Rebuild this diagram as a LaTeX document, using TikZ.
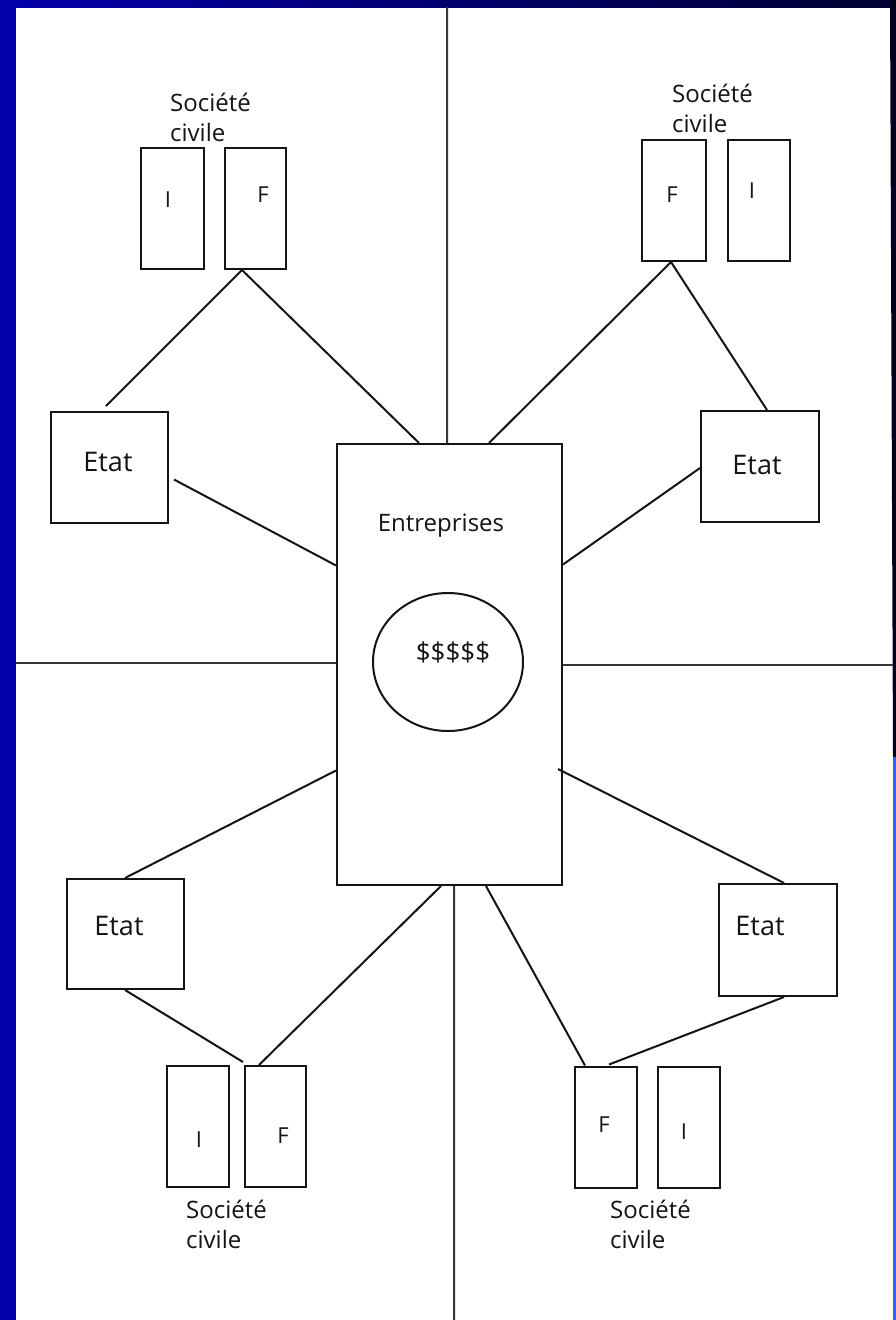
\documentclass[tikz,border=0pt]{standalone}
\usepackage{fontspec}
\setmainfont{Open Sans}
\usetikzlibrary{shapes.geometric,calc}
\definecolor{frameblue}{RGB}{4,0,172}
\definecolor{framenavy}{RGB}{0,0,48}
\definecolor{brightblue}{RGB}{58,92,250}
\definecolor{ink}{RGB}{20,20,20}
\tikzset{
  box/.style={draw=ink, line width=2pt, rectangle, inner sep=0pt},
  cbox/.style={box, minimum width=62pt, minimum height=121pt},
  ebox/.style={box, minimum width=117pt, minimum height=111pt},
  conn/.style={draw=ink, line width=2pt},
  sep/.style={draw=ink!85, line width=2pt},
  lbl/.style={text=ink, inner sep=0pt, font=\fontsize{22}{22}\selectfont},
  etatlbl/.style={text=ink, inner sep=0pt, font=\fontsize{27}{27}\selectfont},
  soc/.style={text=ink, inner sep=0pt, anchor=west, align=left, font=\fontsize{24}{30}\selectfont},
}
\begin{document}
\begin{tikzpicture}[x=1pt,y=-1pt]
\useasboundingbox (0,0) rectangle (896,1320);
\fill[white] (0,0) rectangle (896,1320);
% frame
\fill[frameblue] (0,0) rectangle (16,1320);
\shade[left color=frameblue, right color=framenavy] (0,0) rectangle (896,7);
\fill[framenavy!60!black] (890,0) -- (896,0) -- (896,757) -- (893,757) -- cycle;
\fill[brightblue] (893,757) rectangle (896,1320);

% central box
\node[box, minimum width=225pt, minimum height=441pt] (ent) at (449.5,664.5) {};
\node[text=ink, inner sep=0pt, font=\fontsize{24}{24}\selectfont] (entlbl) at (441,526) {Entreprises};
\node[box, ellipse, minimum width=150pt, minimum height=138pt] (money) at (448,662) {};
\node[text=ink, inner sep=0pt, font=\fontsize{26}{26}\selectfont] (moneylbl) at (453,652) {\$\$\$\$\$};

% quadrant separators
\coordinate (topend) at (447,7);
\coordinate (botend) at (454,1320);
\coordinate (leftend) at (16,663);
\coordinate (rightend) at (893,665);
\draw[sep] (topend) -- ($(ent.north west)!0.489!(ent.north east)$);
\draw[sep] ($(ent.south west)!0.52!(ent.south east)$) -- (botend);
\draw[sep] (leftend) -- (ent.west |- leftend);
\draw[sep] (ent.east |- rightend) -- (rightend);

% top-left group
\node[cbox, minimum width=63pt] (tlI) at (172.5,208.5) {};
\node[cbox, minimum width=61pt] (tlF) at (255.5,208.5) {};
\node[lbl] (tlIt) at (168,200) {I};
\node[lbl] (tlFt) at (263,195) {F};
\node[soc] (tlS) at (170,117) {Société\\civile};
\node[ebox] (tlE) at (109.5,467.5) {};
\node[etatlbl] (tlEt) at (108,462) {Etat};
\coordinate (tlApex) at ([xshift=18pt]tlF.south west);
\coordinate (tlEtop) at ([yshift=5pt]$(tlE.north west)!0.47!(tlE.north east)$);
\draw[conn] (tlEtop) -- (tlApex) -- ([xshift=83pt]ent.north west);
\draw[conn] ([xshift=5pt,yshift=-12pt]tlE.east) -- ([yshift=99pt]ent.west);

% top-right group
\node[cbox, minimum width=64pt] (trF) at (674,200.5) {};
\node[cbox, minimum width=62pt] (trI) at (759,200.5) {};
\node[lbl] (trFt) at (672,195) {F};
\node[lbl] (trIt) at (752,191) {I};
\node[soc] (trS) at (672,108) {Société\\civile};
\node[ebox, minimum width=118pt] (trE) at (760,466.5) {};
\node[etatlbl] (trEt) at (757,465) {Etat};
\coordinate (trApex) at ([xshift=-3pt]trF.south);
\draw[conn] ([xshift=153pt]ent.north west) -- (trApex) -- ([xshift=7pt]trE.north);
\draw[conn] ([yshift=-1.5pt]trE.west) -- ([yshift=100pt]ent.east);

% bottom-left group
\node[ebox, minimum height=110pt] (blE) at (125.5,934) {};
\node[etatlbl] (blEt) at (119,926) {Etat};
\node[cbox] (blI) at (198,1126.5) {};
\node[cbox, minimum width=61pt] (blF) at (275.5,1126.5) {};
\node[lbl] (blIt) at (199,1140) {I};
\node[lbl] (blFt) at (283,1136) {F};
\node[soc] (blS) at (186,1224) {Société\\civile};
\draw[conn] ([xshift=-0.5pt]blE.north) -- ([yshift=-106pt]ent.west);
\draw[conn] ([xshift=-0.5pt]blE.south) -- ([xshift=-1pt,yshift=3pt]blF.north west);
\draw[conn] ([xshift=15pt]blF.north west) -- ([xshift=105pt]ent.south west);

% bottom-right group
\node[ebox, minimum width=118pt, minimum height=112pt] (brE) at (778,940) {};
\node[etatlbl] (brEt) at (760,926) {Etat};
\node[cbox] (brF) at (606,1127) {};
\node[cbox] (brI) at (689,1127) {};
\node[lbl] (brFt) at (604,1125) {F};
\node[lbl] (brIt) at (684,1132) {I};
\node[soc] (brS) at (610,1224) {Société\\civile};
\draw[conn] ([xshift=-5pt,yshift=-104.5pt]ent.east) -- ([xshift=6pt]brE.north);
\draw[conn] ([xshift=6pt]brE.south) -- ([xshift=35pt,yshift=1pt]brF.north west);
\draw[conn] ([xshift=150pt]ent.south west) -- ([xshift=11pt]brF.north west);
\end{tikzpicture}
\end{document}
